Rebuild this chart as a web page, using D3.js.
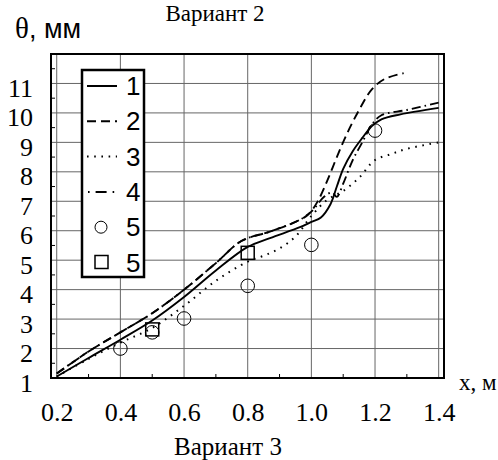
<!DOCTYPE html>
<html><head><meta charset="utf-8">
<script src="https://cdn.jsdelivr.net/npm/d3@7"></script>
<style>body{margin:0;background:#fff}svg{display:block}
.serif{font-family:"Liberation Serif","Tinos","Times New Roman","DejaVu Serif",serif}
.sans{font-family:"Liberation Sans","Arimo",Arial,sans-serif}
</style>
</head><body>
<script>
// ---- data ----
const xTicks = [0.2, 0.4, 0.6, 0.8, 1.0, 1.2, 1.4];
const xTickLabels = ["0.2", "0.4", "0.6", "0.8", "1.0", "1.2", "1.4"];
const yTicks = [1, 2, 3, 4, 5, 6, 7, 8, 9, 10, 11];
const yTickLabels = ["1", "2", "3", "4", "5", "6", "7", "8", "9", "10", "11"];

const s1x = [0.2, 0.3, 0.4, 0.5, 0.6, 0.7, 0.8, 0.87, 0.964, 1.0, 1.03, 1.06, 1.08, 1.1, 1.13, 1.16, 1.19, 1.22, 1.28, 1.4];
const s1y = [1.05, 1.68, 2.3, 2.95, 3.75, 4.65, 5.45, 5.75, 6.12, 6.3, 6.45, 6.9, 7.5, 8.1, 8.7, 9.15, 9.55, 9.78, 9.95, 10.17];

const s2x = [0.2, 0.3, 0.4, 0.5, 0.6, 0.7, 0.78, 0.87, 0.95, 0.99, 1.02, 1.05, 1.08, 1.11, 1.15, 1.19, 1.23, 1.29];
const s2y = [1.15, 1.9, 2.55, 3.2, 4.0, 4.9, 5.65, 5.97, 6.3, 6.55, 7.0, 7.7, 8.5, 9.25, 10.1, 10.8, 11.15, 11.35];

const s3x = [0.2, 0.3, 0.4, 0.5, 0.6, 0.7, 0.8, 0.85, 0.9, 0.95, 1.0, 1.05, 1.1, 1.15, 1.2, 1.25, 1.3, 1.4];
const s3y = [1.05, 1.65, 2.2, 2.7, 3.45, 4.3, 4.95, 5.15, 5.4, 5.8, 6.5, 7.05, 7.35, 7.8, 8.4, 8.6, 8.78, 9.0];

const s4x = [0.2, 0.3, 0.4, 0.5, 0.6, 0.7, 0.78, 0.87, 0.96, 1.0, 1.04, 1.065, 1.08, 1.1, 1.13, 1.16, 1.19, 1.22, 1.3, 1.4];
const s4y = [1.15, 1.9, 2.55, 3.2, 4.0, 4.9, 5.65, 5.97, 6.35, 6.65, 7.15, 7.3, 7.15, 7.6, 8.4, 9.0, 9.6, 9.92, 10.1, 10.35];

const circX = [0.4, 0.5, 0.6, 0.8, 1.0, 1.2];
const circY = [2.0, 2.55, 3.02, 4.13, 5.52, 9.4];
const sqX = [0.5, 0.8];
const sqY = [2.65, 5.25];

const legendLabels = ["1", "2", "3", "4", "5", "5"];
const legendKinds = ["solid", "dash", "dot", "dashdot", "circle", "square"];

// ---- layout ----
const W = 498, H = 460;
const L = 51, R = 444, T = 54, B = 378;
const svg = d3.select("body").append("svg").attr("width", W).attr("height", H);

const x = d3.scaleLinear().domain([0.182, 1.4167]).range([L, R]);
const y = d3.scaleLinear().domain([1, 12]).range([B, T]);

// grid
const g = svg.append("g");
g.selectAll("line.vg").data(xTicks).join("line")
  .attr("x1", d => x(d)).attr("x2", d => x(d)).attr("y1", T).attr("y2", B)
  .attr("stroke", "#666").attr("stroke-width", 1);
g.selectAll("line.hg").data(d3.range(2, 12)).join("line")
  .attr("y1", d => y(d)).attr("y2", d => y(d)).attr("x1", L).attr("x2", R)
  .attr("stroke", "#666").attr("stroke-width", 1);

// minor ticks
g.selectAll("line.mx").data(d3.range(0.3, 1.41, 0.2)).join("line")
  .attr("x1", d => x(d)).attr("x2", d => x(d)).attr("y1", B).attr("y2", B - 4)
  .attr("stroke", "#000").attr("stroke-width", 1);
g.selectAll("line.my").data(d3.range(1.5, 12, 1)).join("line")
  .attr("y1", d => y(d)).attr("y2", d => y(d)).attr("x1", L).attr("x2", L + 4)
  .attr("stroke", "#000").attr("stroke-width", 1);

// axes via d3 axis (labels only)
const xAxis = svg.append("g").attr("transform", `translate(0,${B})`)
  .call(d3.axisBottom(x).tickValues(xTicks).tickFormat((d, i) => xTickLabels[i]).tickSize(0).tickPadding(0));
xAxis.attr("font-family", null).attr("font-size", null);
xAxis.select(".domain").remove();
xAxis.selectAll("text").attr("class", "serif").style("font-size", "26px").attr("fill", "#000")
  .attr("dy", null).attr("y", 43);

const yAxis = svg.append("g").attr("transform", `translate(${L},0)`)
  .call(d3.axisLeft(y).tickValues(yTicks).tickFormat((d, i) => yTickLabels[i]).tickSize(0).tickPadding(0));
yAxis.attr("font-family", null).attr("font-size", null);
yAxis.select(".domain").remove();
yAxis.selectAll("text").attr("class", "serif").style("font-size", "26px").attr("fill", "#000")
  .attr("dy", null).attr("x", -18).attr("y", 13);

// clip
svg.append("clipPath").attr("id", "clip").append("rect")
  .attr("x", L).attr("y", T).attr("width", R - L).attr("height", B - T);
const plot = svg.append("g").attr("clip-path", "url(#clip)");

const line = d3.line().x(d => x(d[0])).y(d => y(d[1])).curve(d3.curveCatmullRom.alpha(0.5));
const styles = {
  solid: null,
  dash: "9,5",
  dot: "1.6,5.6",
  dashdot: "9,4,1.6,4"
};
const series = [[s1x, s1y, "solid"], [s2x, s2y, "dash"], [s3x, s3y, "dot"], [s4x, s4y, "dashdot"]];
series.forEach(([xs, ys, k]) => {
  plot.append("path").datum(xs.map((v, i) => [v, ys[i]]))
    .attr("d", line).attr("fill", "none").attr("stroke", "#000")
    .attr("stroke-width", k === "dot" ? 2 : 1.9)
    .attr("stroke-dasharray", styles[k]);
});

plot.selectAll("circle.m").data(circX.map((v, i) => [v, circY[i]])).join("circle")
  .attr("cx", d => x(d[0])).attr("cy", d => y(d[1])).attr("r", 6.8)
  .attr("fill", "none").attr("stroke", "#000").attr("stroke-width", 1);
plot.selectAll("rect.m").data(sqX.map((v, i) => [v, sqY[i]])).join("rect")
  .attr("x", d => x(d[0]) - 6.5).attr("y", d => y(d[1]) - 6.5).attr("width", 13).attr("height", 13)
  .attr("fill", "none").attr("stroke", "#000").attr("stroke-width", 1.5);

// frame
svg.append("rect").attr("x", L).attr("y", T).attr("width", R - L).attr("height", B - T)
  .attr("fill", "none").attr("stroke", "#000").attr("stroke-width", 2);

// legend
const lg = svg.append("g");
lg.append("rect").attr("x", 82).attr("y", 70).attr("width", 62).attr("height", 207)
  .attr("fill", "#fff").attr("stroke", "#000").attr("stroke-width", 2.5);
legendKinds.forEach((k, i) => {
  const cy = 86 + i * 35.3;
  if (k === "circle") {
    lg.append("circle").attr("cx", 101).attr("cy", cy).attr("r", 6).attr("fill", "none").attr("stroke", "#000").attr("stroke-width", 1);
  } else if (k === "square") {
    lg.append("rect").attr("x", 95).attr("y", cy - 7).attr("width", 13).attr("height", 13).attr("fill", "none").attr("stroke", "#000").attr("stroke-width", 1.5);
  } else {
    lg.append("line").attr("x1", k === "dashdot" ? 88 : 87).attr("x2", 117).attr("y1", cy).attr("y2", cy)
      .attr("stroke", "#000").attr("stroke-width", 2)
      .attr("stroke-dasharray", k === "dashdot" ? "1.6,6,11,6" : styles[k]);
  }
  lg.append("text").attr("class", "sans").attr("x", 126).attr("y", cy + 9).style("font-size", "26px")
    .text(legendLabels[i]);
});

// titles
svg.append("text").attr("class", "serif").attr("x", 215).attr("y", 21).attr("text-anchor", "middle")
  .style("font-size", "23px").text("Вариант 2");
svg.append("text").attr("class", "serif").attr("x", 228).attr("y", 455).attr("text-anchor", "middle")
  .style("font-size", "25px").text("Вариант 3");
const yl = svg.append("text").attr("class", "sans").attr("x", 15).attr("y", 38).style("font-size", "27px");
yl.append("tspan").attr("class", "serif").style("font-size", "29px").text("θ");
yl.append("tspan").text(", мм");
svg.append("text").attr("class", "serif").attr("x", 459).attr("y", 390).style("font-size", "23px").text("x, м");
</script>
</body></html>
